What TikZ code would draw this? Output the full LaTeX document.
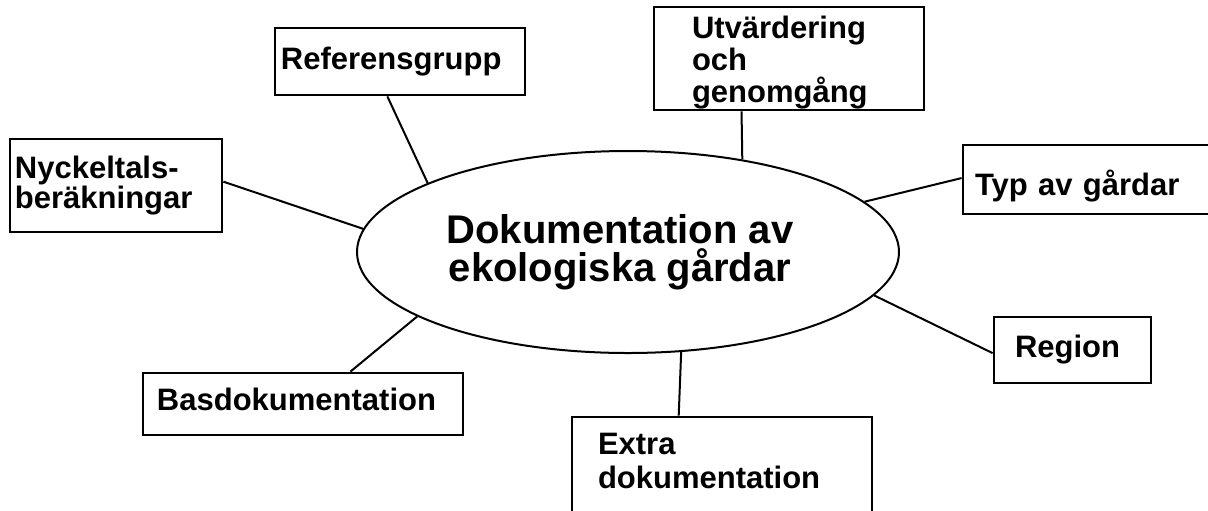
\documentclass[tikz,border=0pt]{standalone}
\usepackage{fontspec}
\setmainfont{Liberation Sans}
\usepackage[]{tikz}
\usetikzlibrary{positioning,calc,shapes}
\tikzstyle{nodeTopic} =[ellipse, draw, line width=1pt, inner sep=0pt, minimum width=271pt, minimum height=101pt, align=center, font=\bfseries\fontsize{20}{19}\selectfont]
\tikzstyle{nodeBox}   =[rectangle, draw, line width=1.4pt, inner ysep=0pt, align=left, font=\bfseries\fontsize{15.5}{16}\selectfont]
\tikzstyle{link}      =[line width=1pt]

\begin{document}
\begin{tikzpicture}[auto, on grid]
      \node[nodeTopic] (main) {Dokumentation av\hspace*{8pt}\\ekologiska gårdar\hspace*{8pt}};
      \useasboundingbox ($(main.center)+(-314pt,126pt)$) rectangle ($(main.center)+(290pt,-129pt)$);
      \node[nodeBox, text width=119pt, inner xsep=3pt, minimum height=33.5pt] (ref) [above left = 95.25pt and 114pt of main] {Referensgrupp};
      \node[nodeBox, text width=101pt, inner xsep=2.5pt, minimum height=46.5pt, font=\bfseries\fontsize{15.5}{15}\selectfont] (nyck) [above left = 33.25pt and 256pt of main] {Nyckeltals-\\beräkningar};
      \node[nodeBox, text width=97pt, inner xsep=19pt, minimum height=51.5pt, text height=15pt] (utv) [above right = 96.75pt and 80.5pt of main] {Utvärdering\\och\\genomgång};
      \node[nodeBox, text width=114.5pt, inner xsep=6pt, minimum height=34.5pt, text height=19pt] (typ) [above right = 36.25pt and 230.75pt of main] {Typ av gårdar};
      \node[nodeBox, text width=57.5pt, inner xsep=10.5pt, minimum height=33pt] (region) [below right = 49pt and 222.25pt of main] {Region};
      \node[nodeBox, text width=146pt, inner xsep=7pt, minimum height=31pt, text depth=5pt] (bas) [below left = 76pt and 162.5pt of main] {Basdokumentation};
      \node[nodeBox, text width=124pt, inner xsep=13pt, inner ysep=7.5pt, text height=11pt, text depth=35.5pt, font=\bfseries\fontsize{15.5}{17}\selectfont] (extra) [below right = 113.25pt and 47pt of main] {Extra\\dokumentation};
      % feet of the connectors on the boxes
      \coordinate (refFoot)    at ($(ref.south west)!0.45!(ref.south east)$);
      \coordinate (nyckFoot)   at ($(nyck.north east)!0.46!(nyck.south east)$);
      \coordinate (utvFoot)    at ($(utv.south west)!0.326!(utv.south east)$);
      \coordinate (typFoot)    at ($(typ.north west)!0.48!(typ.south west)$);
      \coordinate (regionFoot) at ($(region.north west)!0.545!(region.south west)$);
      \coordinate (basFoot)    at ($(bas.north west)!0.647!(bas.north east)$);
      \coordinate (extraFoot)  at ($(extra.north west)!0.357!(extra.north east)$);
      \draw[link] (refFoot) edge[] (main.161);
      \draw[link] (nyckFoot) edge[] (main.175);
      \draw[link] (utvFoot) edge[] (main.39);
      \draw[link] (typFoot) edge[] (main.12);
      \draw[link] (regionFoot) edge[] (main.350);
      \draw[link] (basFoot) edge[] (main.197);
      \draw[link] (extraFoot) edge[] (main.298);
    \end{tikzpicture}
\end{document}
